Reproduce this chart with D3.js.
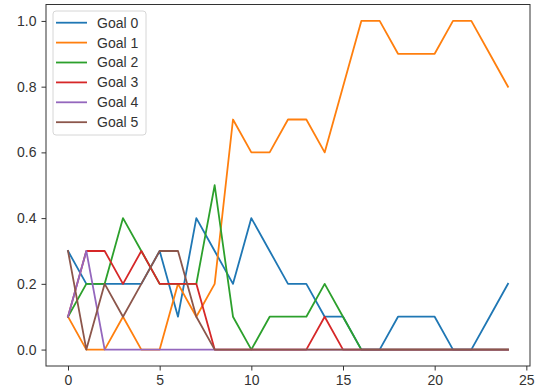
<!DOCTYPE html>
<html>
<head>
<meta charset="utf-8">
<script src="https://cdn.jsdelivr.net/npm/d3@7"></script>
<style>
  html, body { margin: 0; padding: 0; background: #fff; }
  svg { display: block; font-family: "Liberation Sans", Arial, sans-serif; }
</style>
</head>
<body>
<svg id="chart" width="535" height="392"></svg>
<script>
// Per-step share of each goal
const steps = d3.range(0, 25);
const seriesNames = ["Goal 0", "Goal 1", "Goal 2", "Goal 3", "Goal 4", "Goal 5"];
const goal0 = [0.3,0.2,0.2,0.2,0.2,0.3,0.1,0.4,0.3,0.2,0.4,0.3,0.2,0.2,0.1,0.1,0,0,0.1,0.1,0.1,0,0,0.1,0.2];
const goal1 = [0.1,0,0,0.1,0,0,0.2,0.1,0.2,0.7,0.6,0.6,0.7,0.7,0.6,0.8,1.0,1.0,0.9,0.9,0.9,1.0,1.0,0.9,0.8];
const goal2 = [0.1,0.2,0.2,0.4,0.3,0.2,0.2,0.2,0.5,0.1,0,0.1,0.1,0.1,0.2,0.1,0,0,0,0,0,0,0,0,0];
const goal3 = [0.1,0.3,0.3,0.2,0.3,0.2,0.2,0.2,0,0,0,0,0,0,0.1,0,0,0,0,0,0,0,0,0,0];
const goal4 = [0.1,0.3,0,0,0,0,0,0,0,0,0,0,0,0,0,0,0,0,0,0,0,0,0,0,0];
const goal5 = [0.3,0,0.2,0.1,0.2,0.3,0.3,0.1,0,0,0,0,0,0,0,0,0,0,0,0,0,0,0,0,0];
const seriesValues = [goal0, goal1, goal2, goal3, goal4, goal5];
const colors = ["#1f77b4", "#ff7f0e", "#2ca02c", "#d62728", "#9467bd", "#8c564b"];
const xTicks = [0, 5, 10, 15, 20, 25];
const yTicks = [0.0, 0.2, 0.4, 0.6, 0.8, 1.0];

const svg = d3.select("#chart");
const plot = { left: 46, right: 530, top: 4.5, bottom: 366 };

const x = d3.scaleLinear().domain([-1.2, 25.2]).range([plot.left, plot.right]);
const y = d3.scaleLinear().domain([-0.05, 1.05]).range([plot.bottom, plot.top]);

const textColor = "#333";
const spineColor = "#333";

// Series lines
const line = d3.line().x((d, i) => x(steps[i])).y(d => y(d));
svg.append("g")
  .selectAll("path")
  .data(seriesValues)
  .join("path")
  .attr("fill", "none")
  .attr("stroke", (d, i) => colors[i])
  .attr("stroke-width", 1.8)
  .attr("stroke-linejoin", "round")
  .attr("stroke-linecap", "square")
  .attr("d", line);

// Axes
const xAxis = d3.axisBottom(x).tickValues(xTicks).tickFormat(d3.format("d")).tickSizeOuter(0).tickSize(4.5).tickPadding(5);
const yAxis = d3.axisLeft(y).tickValues(yTicks).tickFormat(d3.format(".1f")).tickSizeOuter(0).tickSize(4.5).tickPadding(5);

const gx = svg.append("g").attr("transform", `translate(0,${plot.bottom})`).call(xAxis);
const gy = svg.append("g").attr("transform", `translate(${plot.left},0)`).call(yAxis);
[gx, gy].forEach(g => {
  g.select(".domain").remove();
  g.selectAll(".tick line").attr("stroke", spineColor).attr("stroke-width", 1);
  g.selectAll(".tick text").attr("fill", textColor).attr("font-size", 14)
    .attr("font-family", "'Liberation Sans', Arial, sans-serif");
});

// Frame
svg.append("rect")
  .attr("x", plot.left).attr("y", plot.top)
  .attr("width", plot.right - plot.left).attr("height", plot.bottom - plot.top)
  .attr("fill", "none").attr("stroke", spineColor).attr("stroke-width", 1);

// Legend
const legend = svg.append("g").attr("transform", "translate(53,11)");
legend.append("rect")
  .attr("width", 93).attr("height", 124)
  .attr("rx", 3).attr("ry", 3)
  .attr("fill", "#fff").attr("fill-opacity", 0.85)
  .attr("stroke", "#d6d6d6").attr("stroke-width", 1);
const rows = legend.selectAll("g.row")
  .data(seriesNames)
  .join("g")
  .attr("class", "row")
  .attr("transform", (d, i) => `translate(0,${11.7 + i * 19.9})`);
rows.append("line")
  .attr("x1", 3).attr("x2", 34)
  .attr("stroke", (d, i) => colors[i]).attr("stroke-width", 1.8);
rows.append("text")
  .attr("x", 44).attr("dy", "0.35em")
  .attr("font-size", 14).attr("fill", textColor)
  .text(d => d);
</script>
</body>
</html>
